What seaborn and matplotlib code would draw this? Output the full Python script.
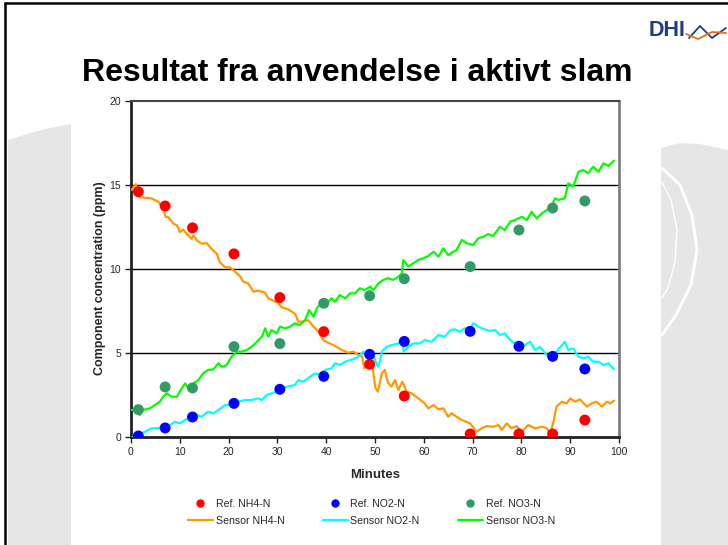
import numpy as np
import pandas as pd
import matplotlib
matplotlib.use("Agg")
import matplotlib.pyplot as plt
from matplotlib.lines import Line2D
from matplotlib.patches import Polygon
import seaborn as sns

# ---------------- data ----------------
ref_minutes = [1.5, 7.0, 12.6, 21.1, 30.5, 39.5, 48.9, 56.0, 69.5, 79.5, 86.4, 93.0]
ref_nh4 = [14.6, 13.75, 12.45, 10.9, 8.3, 6.27, 4.33, 2.44, 0.18, 0.18, 0.18, 1.01]
ref_no2 = [0.06, 0.54, 1.19, 2.0, 2.84, 3.61, 4.92, 5.69, 6.29, 5.4, 4.8, 4.05]
ref_no3 = [1.63, 2.98, 2.92, 5.38, 5.56, 7.96, 8.41, 9.42, 10.14, 12.32, 13.63, 14.05]

sensor_nh4_x = [0.1, 1.0, 1.5, 1.8, 4.2, 5.6, 6.6, 7.1, 7.6, 8.7, 9.4, 10.0, 10.7, 11.4, 12.4,
                12.8, 13.5, 14.5, 15.5, 16.5, 17.6, 18.2, 19.3, 20.3, 21.3, 22.3, 23.0, 24.0,
                25.1, 26.1, 27.5, 28.1, 29.2, 30.2, 30.9, 32.2, 33.6, 34.3, 35.3, 36.3, 37.4,
                38.4, 39.4, 40.4, 41.8, 43.2, 44.5, 45.6, 46.6, 47.4, 47.8, 49.0, 49.4, 50.1,
                50.6, 51.4, 52.0, 52.7, 53.4, 54.1, 54.8, 55.6, 56.5, 57.5, 58.9, 60.2, 60.9,
                62.0, 63.0, 64.0, 65.0, 65.7, 66.7, 67.8, 69.5, 70.8, 71.9, 72.9, 74.2, 75.3,
                76.0, 77.0, 78.0, 79.0, 80.1, 81.4, 82.8, 84.2, 85.2, 85.9, 86.5, 87.2, 88.3,
                89.3, 90.0, 91.0, 92.0, 93.4, 94.4, 95.4, 96.5, 97.5, 98.2, 99.0]
sensor_nh4_y = [14.7, 15.05, 14.5, 14.27, 14.2, 14.0, 13.6, 13.1, 13.1, 12.7, 12.6, 12.2, 12.35,
                12.1, 11.8, 12.0, 11.7, 11.5, 11.55, 11.2, 10.9, 10.4, 10.1, 10.1, 9.84, 9.58,
                9.25, 9.15, 8.65, 8.71, 8.59, 8.26, 8.11, 7.95, 7.72, 7.6, 7.34, 6.87, 6.87, 6.96,
                6.57, 6.27, 5.77, 5.61, 5.42, 5.18, 5.02, 5.08, 4.88, 4.78, 4.09, 4.48, 4.39, 2.9,
                2.7, 3.79, 3.99, 3.2, 3.0, 3.39, 2.8, 3.29, 2.7, 2.6, 2.3, 2.0, 1.7, 1.9, 1.65,
                1.71, 1.21, 1.41, 1.21, 1.01, 0.81, 0.32, 0.52, 0.65, 0.61, 0.71, 0.42, 0.81,
                0.52, 0.65, 0.32, 0.71, 0.52, 0.61, 0.52, 0.22, 0.81, 1.81, 2.1, 2.0, 2.3, 2.1,
                2.24, 1.81, 2.0, 2.1, 1.81, 2.1, 2.0, 2.16]

sensor_no2_x = [0.3, 1.5, 2.9, 4.2, 5.6, 6.6, 8.0, 9.0, 10.0, 11.1, 12.4, 13.5, 14.5, 15.8, 16.9,
                17.9, 19.3, 20.6, 22.0, 23.4, 24.7, 26.1, 26.8, 27.8, 28.8, 29.9, 30.9, 32.2,
                33.6, 34.3, 35.3, 36.7, 37.7, 38.7, 39.8, 41.1, 41.8, 42.8, 43.9, 44.9, 46.0,
                46.9, 47.6, 48.3, 49.0, 49.7, 50.6, 51.0, 51.4, 52.4, 53.4, 54.8, 55.5, 55.9,
                56.8, 57.8, 59.2, 60.2, 61.6, 63.0, 64.3, 65.5, 66.4, 67.4, 68.4, 69.5, 70.1,
                71.2, 72.2, 73.6, 74.6, 75.6, 76.6, 77.7, 78.7, 79.7, 80.7, 81.8, 82.8, 83.8,
                85.2, 86.2, 87.2, 88.3, 88.9, 89.6, 90.6, 91.7, 92.7, 93.7, 94.7, 95.8, 96.8,
                97.8, 99.0]
sensor_no2_y = [0.0, 0.12, 0.32, 0.52, 0.52, 0.62, 0.71, 0.91, 0.81, 1.01, 1.21, 1.31, 1.21, 1.51,
                1.41, 1.61, 1.9, 1.9, 2.1, 2.2, 2.2, 2.3, 2.2, 2.5, 2.6, 2.7, 2.9, 3.0, 3.1, 3.39,
                3.29, 3.59, 3.79, 3.69, 3.99, 4.09, 4.39, 4.29, 4.48, 4.58, 4.68, 4.88, 5.08,
                4.78, 4.94, 4.78, 4.18, 4.48, 5.08, 5.37, 5.47, 5.57, 5.77, 5.08, 5.37, 5.57,
                5.57, 5.77, 5.67, 6.07, 5.97, 6.37, 6.4, 6.27, 6.47, 6.37, 6.77, 6.57, 6.43,
                6.31, 6.37, 6.07, 6.17, 5.77, 5.57, 5.37, 5.47, 5.67, 5.18, 5.37, 4.88, 4.78,
                5.08, 5.47, 5.67, 5.18, 5.28, 4.78, 4.68, 4.78, 4.48, 4.48, 4.28, 4.39, 4.03]

sensor_no3_x = [0.1, 1.2, 1.8, 2.5, 3.9, 4.9, 5.9, 6.6, 7.3, 8.3, 9.4, 10.4, 11.1, 11.9, 12.8,
                13.8, 14.8, 15.8, 16.9, 17.9, 18.6, 19.6, 20.6, 21.7, 22.7, 23.7, 24.7, 25.8,
                26.8, 27.5, 28.1, 28.8, 29.9, 30.5, 31.6, 32.6, 33.6, 34.6, 35.7, 36.5, 37.4,
                38.1, 39.1, 40.1, 41.1, 41.8, 42.8, 43.9, 44.9, 45.9, 46.9, 47.95, 49.0, 49.7,
                50.7, 51.7, 52.7, 53.7, 54.8, 55.5, 55.8, 56.8, 57.8, 58.9, 59.9, 60.9, 62.0,
                63.0, 64.0, 65.0, 66.0, 66.7, 67.8, 68.8, 70.1, 71.2, 72.2, 73.2, 74.2, 75.6,
                76.6, 77.7, 78.7, 80.1, 81.1, 82.1, 83.1, 84.2, 85.2, 86.2, 86.9, 87.6, 88.9,
                89.6, 90.6, 91.7, 92.7, 93.7, 94.7, 95.8, 96.8, 97.8, 99.0]
sensor_no3_y = [1.61, 1.61, 1.31, 1.61, 1.71, 1.9, 2.1, 2.4, 2.6, 2.4, 2.4, 2.9, 3.19, 2.8, 3.19,
                3.39, 3.79, 3.99, 4.03, 4.39, 4.18, 4.28, 4.78, 5.08, 5.08, 5.18, 5.37, 5.67,
                5.97, 6.47, 5.97, 6.37, 6.17, 6.57, 6.47, 6.57, 6.77, 6.67, 6.97, 7.56, 7.16,
                7.66, 8.05, 7.96, 8.26, 8.05, 8.45, 8.26, 8.55, 8.55, 8.85, 8.75, 8.95, 8.75,
                9.15, 9.35, 9.45, 9.35, 9.54, 9.74, 10.54, 10.14, 10.34, 10.54, 10.64, 10.77,
                11.03, 10.73, 11.23, 10.83, 11.03, 11.13, 11.73, 11.53, 11.43, 11.83, 11.92,
                12.08, 11.96, 12.52, 12.32, 12.82, 12.92, 13.11, 12.92, 13.41, 13.02, 13.31,
                13.51, 13.71, 14.21, 14.11, 14.21, 15.1, 14.9, 15.79, 15.89, 15.7, 16.09, 15.79,
                16.29, 16.13, 16.45]

ref_labels = ["Ref. NH4-N", "Ref. NO2-N", "Ref. NO3-N"]
sensor_labels = ["Sensor NH4-N", "Sensor NO2-N", "Sensor NO3-N"]
x_ticks = [0, 10, 20, 30, 40, 50, 60, 70, 80, 90, 100]
y_ticks = [0, 5, 10, 15, 20]

ref_colors = ["#FF0000", "#0000FF", "#339966"]
sensor_colors = ["#FF9900", "#00FFFF", "#00FF00"]

# --------------- frames ----------------
ref_df = pd.concat([
    pd.DataFrame({"Minutes": ref_minutes, "value": v, "series": lab})
    for v, lab in zip([ref_nh4, ref_no2, ref_no3], ref_labels)
], ignore_index=True)

sensor_df = pd.concat([
    pd.DataFrame({"Minutes": sx, "value": sy, "series": lab})
    for sx, sy, lab in zip([sensor_nh4_x, sensor_no2_x, sensor_no3_x],
                           [sensor_nh4_y, sensor_no2_y, sensor_no3_y], sensor_labels)
], ignore_index=True)

# --------------- figure ----------------
sns.set_theme(style="white")
plt.rcParams["font.family"] = ["Liberation Sans", "DejaVu Sans"]

W, H = 728, 545
fig = plt.figure(figsize=(W / 100, H / 100), dpi=100)
fig.patch.set_facecolor("white")

def fpt(x, y):
    return (x / W, 1 - y / H)

# background decorations
left_shape = [fpt(8, 140), fpt(30, 133), fpt(50, 128), fpt(71, 124), fpt(71, 545), fpt(8, 545)]
fig.add_artist(Polygon(left_shape, closed=True, transform=fig.transFigure,
                       facecolor="#e6e6e6", edgecolor="none", zorder=0))
right_shape = [fpt(661, 148), fpt(680, 143), fpt(700, 144), fpt(728, 150), fpt(728, 545), fpt(661, 545)]
fig.add_artist(Polygon(right_shape, closed=True, transform=fig.transFigure,
                       facecolor="#e6e6e6", edgecolor="none", zorder=0))
for pts, lw in [([(662, 168), (680, 185), (692, 215), (697, 250), (691, 285), (676, 315), (662, 335)], 2.0),
                ([(662, 182), (671, 200), (677, 230), (675, 262), (668, 288), (662, 298)], 1.0)]:
    xs = [p[0] / W for p in pts]
    ys = [1 - p[1] / H for p in pts]
    fig.add_artist(Line2D(xs, ys, transform=fig.transFigure, color="white", lw=lw, zorder=0.5))

# slide border (left and top)
fig.add_artist(Line2D([5 / W, 5 / W], [0, 1 - 3 / H], transform=fig.transFigure,
                      color="black", lw=1.8, zorder=5))
fig.add_artist(Line2D([5 / W, 1], [1 - 3 / H, 1 - 3 / H], transform=fig.transFigure,
                      color="black", lw=1.8, zorder=5))

# DHI logo
fig.text(667 / W, 1 - 31 / H, "DHI", fontsize=15.5, fontweight="heavy", color="#1F3C88",
         ha="center", va="center")
fig.add_artist(Line2D([689 / W, 700 / W, 712 / W, 726 / W],
                      [1 - 38 / H, 1 - 26 / H, 1 - 38 / H, 1 - 28 / H],
                      transform=fig.transFigure, color="#1F3C88", lw=1.3))
fig.add_artist(Line2D([686 / W, 698 / W, 712 / W, 726 / W],
                      [1 - 34 / H, 1 - 39 / H, 1 - 32 / H, 1 - 33 / H],
                      transform=fig.transFigure, color="#E07020", lw=1.3))

# title
fig.text(357 / W, 1 - 73 / H, "Resultat fra anvendelse i aktivt slam", fontsize=23,
         fontweight="bold", color="black", ha="center", va="center")

# axes
ax = fig.add_axes([131 / W, 1 - 437 / H, (619 - 131) / W, (437 - 101) / H])
ax.set_facecolor("white")

sns.lineplot(data=sensor_df, x="Minutes", y="value", hue="series",
             palette=dict(zip(sensor_labels, sensor_colors)), hue_order=sensor_labels,
             estimator=None, sort=False, lw=1.6, legend=False, ax=ax, zorder=3)
sns.scatterplot(data=ref_df, x="Minutes", y="value", hue="series",
                palette=dict(zip(ref_labels, ref_colors)), hue_order=ref_labels,
                s=62, edgecolor="none", legend=False, ax=ax, zorder=4)

ax.set_xlim(0, 100)
ax.set_ylim(0, 20)
ax.set_xticks(x_ticks)
ax.set_yticks(y_ticks)
for yv in y_ticks[1:-1]:
    ax.axhline(yv, color="black", lw=1.0, zorder=1)

for side in ["left", "bottom"]:
    ax.spines[side].set_color("#222222")
    ax.spines[side].set_linewidth(2.0)
ax.spines["top"].set_color("#444444")
ax.spines["top"].set_linewidth(1.5)
ax.spines["right"].set_color("#808080")
ax.spines["right"].set_linewidth(2.0)

ax.tick_params(axis="both", which="major", direction="out", length=4, width=1,
               color="#222222", labelsize=7.5, pad=3, left=True, bottom=True)
ax.set_xlabel("Minutes", fontsize=9.5, fontweight="bold", labelpad=8.7)
ax.set_ylabel("Component concentration (ppm)", fontsize=9, fontweight="bold", labelpad=2.3)
ax.yaxis.label.set_y(0.472)

# legend (two rows: refs on top, sensors below)
handles = []
labels = []
for rl, rc, sl, sc in zip(ref_labels, ref_colors, sensor_labels, sensor_colors):
    handles.append(Line2D([], [], color=rc, marker="o", markersize=5, lw=0))
    labels.append(rl)
    handles.append(Line2D([], [], color=sc, lw=1.6))
    labels.append(sl)
fig.legend(handles, labels, ncol=3, loc="upper left", bbox_to_anchor=(188 / W, 1 - 499 / H),
           frameon=False, fontsize=7.6, handlelength=2.36, handletextpad=0.28,
           columnspacing=3.6, labelspacing=0.65, borderpad=0, borderaxespad=0)

fig.savefig("out.png", dpi=100, facecolor="white")
